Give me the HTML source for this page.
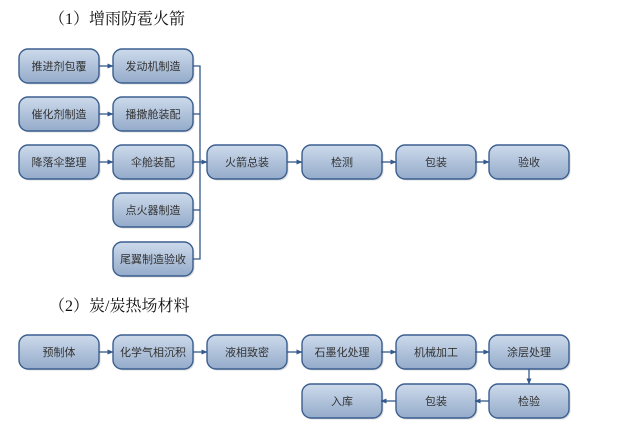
<!DOCTYPE html>
<html>
<head>
<meta charset="utf-8">
<style>
html,body{margin:0;padding:0;background:#fff;}
body{width:623px;height:427px;overflow:hidden;}
svg{display:block;}
.t{font-family:"Liberation Serif","Noto Serif CJK SC",serif;font-size:16px;fill:#111;}
.b{font-family:"Liberation Sans","Noto Sans CJK SC",sans-serif;font-size:11px;fill:#333;text-anchor:middle;}
.ln{stroke:#34598c;stroke-width:1.3;fill:none;}
</style>
</head>
<body>
<svg width="623" height="427" viewBox="0 0 623 427" xmlns="http://www.w3.org/2000/svg">
<defs>
<linearGradient id="g" x1="0" y1="0" x2="0" y2="1">
<stop offset="0" stop-color="#cddaeb"/>
<stop offset="1" stop-color="#94abca"/>
</linearGradient>
<marker id="ar" viewBox="0 0 6 6" refX="5.5" refY="3" markerWidth="6" markerHeight="6" orient="auto" markerUnits="userSpaceOnUse">
<path d="M0,0.5 L6,3 L0,5.5 Z" fill="#34598c"/>
</marker>
<g id="bx">
<rect x="1.5" y="1.5" width="80" height="34" rx="9" fill="#c8c8c8" opacity="0.6"/>
<rect x="0" y="0" width="80" height="34" rx="9" fill="url(#g)" stroke="#3b5f8f" stroke-width="1.4"/>
</g>
</defs>

<text class="t" x="49" y="24">（1）增雨防雹火箭</text>
<text class="t" x="49" y="311">（2）炭/炭热场材料</text>

<!-- Section 1 boxes -->
<use href="#bx" x="19" y="49"/><text class="b" x="59" y="70">推进剂包覆</text>
<use href="#bx" x="113" y="49"/><text class="b" x="153" y="70">发动机制造</text>
<use href="#bx" x="19" y="97"/><text class="b" x="59" y="118">催化剂制造</text>
<use href="#bx" x="113" y="97"/><text class="b" x="153" y="118">播撒舱装配</text>
<use href="#bx" x="19" y="145"/><text class="b" x="59" y="166">降落伞整理</text>
<use href="#bx" x="113" y="145"/><text class="b" x="153" y="166">伞舱装配</text>
<use href="#bx" x="113" y="193"/><text class="b" x="153" y="214">点火器制造</text>
<use href="#bx" x="113" y="242"/><text class="b" x="153" y="263">尾翼制造验收</text>
<use href="#bx" x="207" y="145"/><text class="b" x="247" y="166">火箭总装</text>
<use href="#bx" x="302" y="145"/><text class="b" x="342" y="166">检测</text>
<use href="#bx" x="396" y="145"/><text class="b" x="436" y="166">包装</text>
<use href="#bx" x="489" y="145"/><text class="b" x="529" y="166">验收</text>

<!-- Section 1 connectors -->
<line class="ln" x1="99" y1="66" x2="113" y2="66" marker-end="url(#ar)"/>
<line class="ln" x1="99" y1="114" x2="113" y2="114" marker-end="url(#ar)"/>
<line class="ln" x1="99" y1="162" x2="113" y2="162" marker-end="url(#ar)"/>
<polyline class="ln" points="193,66 200,66 200,259 193,259"/>
<line class="ln" x1="193" y1="114" x2="200" y2="114"/>
<line class="ln" x1="193" y1="162" x2="200" y2="162"/>
<line class="ln" x1="193" y1="210" x2="200" y2="210"/>
<line class="ln" x1="200" y1="162" x2="207" y2="162" marker-end="url(#ar)"/>
<line class="ln" x1="287" y1="162" x2="302" y2="162" marker-end="url(#ar)"/>
<line class="ln" x1="381" y1="162" x2="396" y2="162" marker-end="url(#ar)"/>
<line class="ln" x1="475" y1="162" x2="489" y2="162" marker-end="url(#ar)"/>

<!-- Section 2 boxes -->
<use href="#bx" x="19" y="335"/><text class="b" x="59" y="356">预制体</text>
<use href="#bx" x="113" y="335"/><text class="b" x="153" y="356">化学气相沉积</text>
<use href="#bx" x="207" y="335"/><text class="b" x="247" y="356">液相致密</text>
<use href="#bx" x="302" y="335"/><text class="b" x="342" y="356">石墨化处理</text>
<use href="#bx" x="396" y="335"/><text class="b" x="436" y="356">机械加工</text>
<use href="#bx" x="489" y="335"/><text class="b" x="529" y="356">涂层处理</text>
<use href="#bx" x="302" y="384"/><text class="b" x="342" y="405">入库</text>
<use href="#bx" x="396" y="384"/><text class="b" x="436" y="405">包装</text>
<use href="#bx" x="489" y="384"/><text class="b" x="529" y="405">检验</text>

<!-- Section 2 connectors -->
<line class="ln" x1="99" y1="352" x2="113" y2="352" marker-end="url(#ar)"/>
<line class="ln" x1="193" y1="352" x2="207" y2="352" marker-end="url(#ar)"/>
<line class="ln" x1="287" y1="352" x2="302" y2="352" marker-end="url(#ar)"/>
<line class="ln" x1="381" y1="352" x2="396" y2="352" marker-end="url(#ar)"/>
<line class="ln" x1="475" y1="352" x2="489" y2="352" marker-end="url(#ar)"/>
<line class="ln" x1="529" y1="369" x2="529" y2="384" marker-end="url(#ar)"/>
<line class="ln" x1="489" y1="401" x2="475" y2="401" marker-end="url(#ar)"/>
<line class="ln" x1="396" y1="401" x2="381" y2="401" marker-end="url(#ar)"/>
</svg>
</body>
</html>
